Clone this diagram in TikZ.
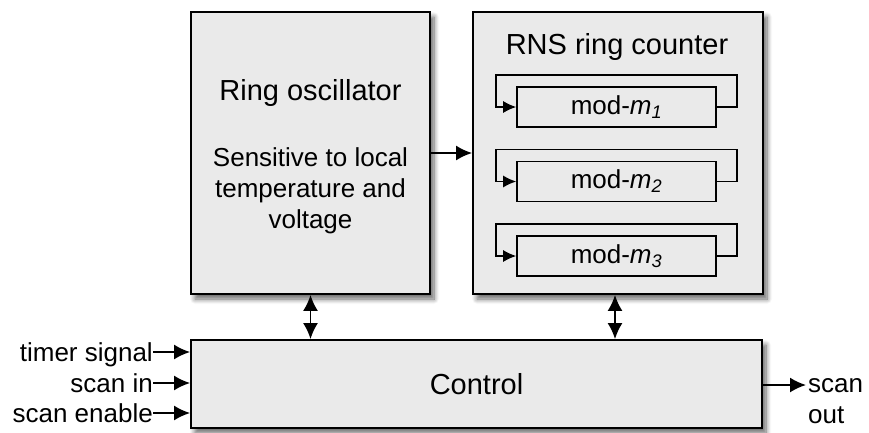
\documentclass[tikz,border=0pt]{standalone}
\usepackage{fontspec}
\setmainfont{Liberation Sans}
\usetikzlibrary{arrows,arrows.meta,shadows.blur}
\definecolor{boxgray}{RGB}{234,234,234}
\tikzstyle{block}=[draw,line width=1.8pt,fill=boxgray,inner sep=0pt,blur shadow={shadow xshift=4pt,shadow yshift=-5pt,shadow blur steps=8,shadow blur radius=5pt,shadow opacity=60}]
\tikzstyle{modbox}=[draw,line width=1.7pt,fill=boxgray,minimum width=199pt,minimum height=40pt,inner sep=0pt]
\tikzstyle{edge}=[draw,line width=1.9pt,-{Latex[length=16pt,width=15pt]}]
\tikzstyle{dedge}=[draw,line width=1.9pt,{Latex[length=16pt,width=15pt]}-{Latex[length=16pt,width=15pt]}]
\tikzstyle{fback}=[draw,line width=1.3pt,-{Latex[length=13pt,width=12pt]}]
\tikzstyle{title}=[font=\fontsize{29}{34}\selectfont,inner sep=0pt]
\tikzstyle{txt}=[font=\fontsize{26}{31}\selectfont,inner sep=0pt]
\tikzstyle{inlabel}=[txt,anchor=east,text height=18pt,text depth=0pt]

\begin{document}
\begin{tikzpicture}[x=1pt,y=-1pt]
\useasboundingbox (0,0) rectangle (869,432);
% First we draw the blocks
\node[block,minimum width=239pt,minimum height=282pt] (ro) at (310.5,153) {};
\node[block,minimum width=290pt,minimum height=282pt] (rns) at (618,153) {};
\node[block,minimum width=571pt,minimum height=88pt] (ctrl) at (476.5,384) {};

% Texts of the blocks
\node[title,anchor=base] (rotitle) at (310.5,100) {Ring oscillator};
\node[txt,align=center] (rotext) at (310.5,191) {Sensitive to local\\temperature and\\voltage};
\node[title,anchor=base] (rnstitle) at (617,54) {RNS ring counter};
\node[title,anchor=base] (ctrltext) at (476.5,394) {Control};

% Then the counters, each one fed back into itself
\foreach \i/\y in {1/107,2/181.5,3/256}{
	\node[modbox,txt] (mod\i) at (616.5,\y) {mod-\textit{m}\textsubscript{\textit{\i}}};
	\path[fback] (mod\i.east) -- ++(20,0) -- ++(0,-32) -- ++(-241,0) -- ++(0,32) -- (mod\i.west);
}

% Connect the blocks
\path[edge] (ro) -- (rns);
\path[dedge] (ro.south) -- (ro.south |- ctrl.north);
\path[dedge] ([xshift=-3pt]rns.south) -- ([xshift=-3pt]rns.south |- ctrl.north);

% Inputs and output of the control
\foreach \name/\y/\text in {tsig/352/timer signal, sin/383/scan in, sen/413/scan enable}{
	\node[inlabel] (\name) at (153,\y) {\text};
	\path[edge] (\name.east) -- (\name.east -| ctrl.west);
}
\coordinate (sotip) at (806,385);
\path[edge] (sotip -| ctrl.east) -- (sotip);
\node[txt,align=left,anchor=west] (sout) at (808,401.5) {scan\\out};
\end{tikzpicture}
\end{document}
